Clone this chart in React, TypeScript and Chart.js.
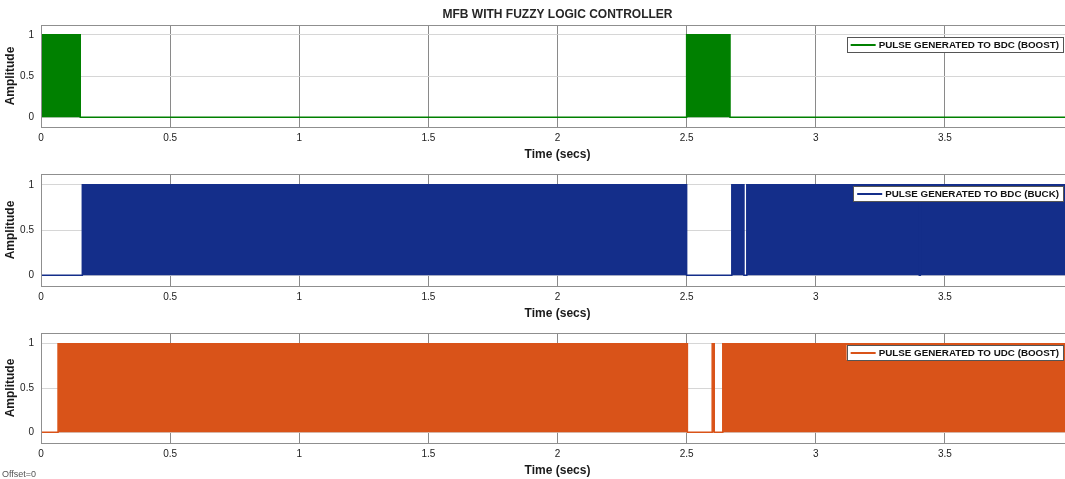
import React, { useEffect, useRef } from 'react';
import { Chart, registerables } from 'chart.js';

Chart.register(...registerables);

// ---------- data ----------
const chartTitle = 'MFB WITH FUZZY LOGIC CONTROLLER';
const xAxisTitle = 'Time (secs)';
const yAxisTitle = 'Amplitude';
const offsetNote = 'Offset=0';
const timeMin = 0;
const timeMax = 4;
const ampMin = -0.12;
const ampMax = 1.12;
const xTicks = [0, 0.5, 1, 1.5, 2, 2.5, 3, 3.5];
const yTicks = [0, 0.5, 1];
const seriesLabels = [
  'PULSE GENERATED TO BDC (BOOST)',
  'PULSE GENERATED TO BDC (BUCK)',
  'PULSE GENERATED TO UDC (BOOST)',
];
const seriesColors = ['#008000', '#142e8a', '#d95319'];
// time intervals [start, end] (s) during which the PWM pulse train switches 0 <-> 1
const bdcBoostActive = [
  [0, 0.152],
  [2.5, 2.668],
];
const bdcBuckActive = [
  [0.16, 2.5],
  [2.675, 2.722],
  [2.733, 3.401],
  [3.405, 4],
];
const udcBoostActive = [
  [0.066, 2.503],
  [2.599, 2.607],
  [2.64, 4],
];
const seriesActive = [bdcBoostActive, bdcBuckActive, udcBoostActive];

// ---------- helpers ----------
function toPoints(intervals: number[][]) {
  const pts: { x: number; y: number }[] = [{ x: timeMin, y: 0 }];
  for (const [a, b] of intervals) {
    pts.push({ x: a, y: 0 }, { x: a, y: 1 }, { x: b, y: 1 }, { x: b, y: 0 });
  }
  pts.push({ x: timeMax, y: 0 });
  return pts;
}

const FONT = '"Liberation Sans", Arial, Helvetica, sans-serif';
const CANVAS_W = 1080;
const CANVAS_H = 479;

const panels = [
  { areaTop: 25, areaBottom: 127 },
  { areaTop: 174, areaBottom: 286 },
  { areaTop: 333, areaBottom: 443 },
];

const framePlugin = {
  id: 'frame',
  afterDatasetsDraw(chart: any) {
    const { ctx, chartArea } = chart;
    ctx.save();
    ctx.strokeStyle = '#8f8f8f';
    ctx.lineWidth = 1;
    ctx.strokeRect(
      Math.round(chartArea.left) + 0.5,
      Math.round(chartArea.top) + 0.5,
      Math.round(chartArea.right - chartArea.left),
      Math.round(chartArea.bottom - chartArea.top)
    );
    ctx.restore();
  },
};

const boxLegendPlugin = {
  id: 'boxLegend',
  afterDraw(chart: any) {
    const { ctx, chartArea } = chart;
    const ds = chart.data.datasets[0];
    ctx.save();
    ctx.font = `bold 9.8px ${FONT}`;
    const tw = ctx.measureText(ds.label).width;
    const padL = 4;
    const sampleW = 25;
    const gap = 3;
    const padR = 4;
    const h = 15;
    const w = padL + sampleW + gap + tw + padR;
    const right = Math.round(chartArea.right - 11.5);
    const top = Math.round(chartArea.top + 11.5);
    const left = right - w;
    ctx.fillStyle = '#ffffff';
    ctx.fillRect(left, top, w, h);
    ctx.strokeStyle = '#555555';
    ctx.lineWidth = 1;
    ctx.strokeRect(Math.round(left) + 0.5, top + 0.5, Math.round(w), h);
    const cy = top + h / 2 + 0.5;
    ctx.strokeStyle = ds.borderColor;
    ctx.lineWidth = 2;
    ctx.beginPath();
    ctx.moveTo(left + padL, cy);
    ctx.lineTo(left + padL + sampleW, cy);
    ctx.stroke();
    ctx.fillStyle = '#111111';
    ctx.textBaseline = 'middle';
    ctx.textAlign = 'left';
    ctx.fillText(ds.label, left + padL + sampleW + gap, cy);
    ctx.restore();
  },
};

const notePlugin = {
  id: 'note',
  afterDraw(chart: any) {
    if (!chart.options.plugins.note || !chart.options.plugins.note.text) return;
    const { ctx } = chart;
    ctx.save();
    ctx.font = `9px ${FONT}`;
    ctx.fillStyle = '#555555';
    ctx.textBaseline = 'middle';
    ctx.textAlign = 'left';
    ctx.fillText(chart.options.plugins.note.text, 2, 475);
    ctx.restore();
  },
};

function Panel({ index }: { index: number }) {
  const ref = useRef<HTMLCanvasElement | null>(null);
  useEffect(() => {
    if (!ref.current) return;
    const p = panels[index];
    const xAxisH = 35;
    const isFirst = index === 0;
    const chart = new Chart(ref.current, {
      type: 'line',
      data: {
        datasets: [
          {
            label: seriesLabels[index],
            data: toPoints(seriesActive[index]),
            borderColor: seriesColors[index],
            backgroundColor: seriesColors[index],
            borderWidth: 1.5,
            pointRadius: 0,
            pointHoverRadius: 0,
            tension: 0,
            fill: 'origin',
          },
        ],
      },
      options: {
        animation: false,
        responsive: false,
        devicePixelRatio: 1,
        events: [],
        layout: {
          padding: {
            left: 0,
            right: CANVAS_W - 1074,
            top: isFirst ? 0 : p.areaTop,
            bottom: CANVAS_H - p.areaBottom - xAxisH,
          },
        },
        plugins: {
          legend: { display: false },
          tooltip: { enabled: false },
          title: isFirst
            ? {
                display: true,
                text: chartTitle,
                fullSize: false,
                color: '#262626',
                font: { family: FONT, size: 12, weight: 'bold', lineHeight: 1.2 },
                padding: { top: 7.8, bottom: 2.8 },
              }
            : { display: false },
          note: { text: index === 2 ? offsetNote : '' },
        } as any,
        scales: {
          x: {
            type: 'linear',
            min: timeMin,
            max: timeMax,
            afterBuildTicks: (s: any) => {
              s.ticks = xTicks.map((v) => ({ value: v }));
            },
            afterFit: (s: any) => {
              s.height = xAxisH;
            },
            grid: { color: '#8a8a8a', lineWidth: 1, drawTicks: false },
            border: { display: false },
            ticks: {
              padding: 5,
              autoSkip: false,
              maxRotation: 0,
              color: '#222222',
              font: { family: FONT, size: 10 },
              callback: (v: any) => String(v),
            },
            title: {
              display: true,
              text: xAxisTitle,
              color: '#1a1a1a',
              font: { family: FONT, size: 12, weight: 'bold', lineHeight: 1.2 },
              padding: { top: 0, bottom: 0 },
            },
          },
          y: {
            type: 'linear',
            min: ampMin,
            max: ampMax,
            afterBuildTicks: (s: any) => {
              s.ticks = yTicks.map((v) => ({ value: v }));
            },
            afterFit: (s: any) => {
              s.width = 41;
            },
            grid: { color: '#d6d6d6', lineWidth: 1, drawTicks: false },
            border: { display: false },
            ticks: {
              padding: 7,
              color: '#222222',
              font: { family: FONT, size: 10 },
              callback: (v: any) => String(v),
            },
            title: {
              display: true,
              text: yAxisTitle,
              color: '#1a1a1a',
              font: { family: FONT, size: 12, weight: 'bold', lineHeight: 1.2 },
              padding: { top: 3, bottom: 0 },
            },
          },
        },
      } as any,
      plugins: [framePlugin, boxLegendPlugin, notePlugin],
    });
    return () => chart.destroy();
  }, [index]);
  return (
    <canvas
      ref={ref}
      width={CANVAS_W}
      height={CANVAS_H}
      style={{ position: 'absolute', left: 0, top: 0, width: CANVAS_W, height: CANVAS_H, display: 'block' }}
    />
  );
}

export default function App() {
  return (
    <div
      style={{
        position: 'fixed',
        left: 0,
        top: 0,
        width: 1065,
        height: 479,
        overflow: 'hidden',
        background: '#ffffff',
      }}
    >
      {[0, 1, 2].map((i) => (
        <Panel key={i} index={i} />
      ))}
    </div>
  );
}
